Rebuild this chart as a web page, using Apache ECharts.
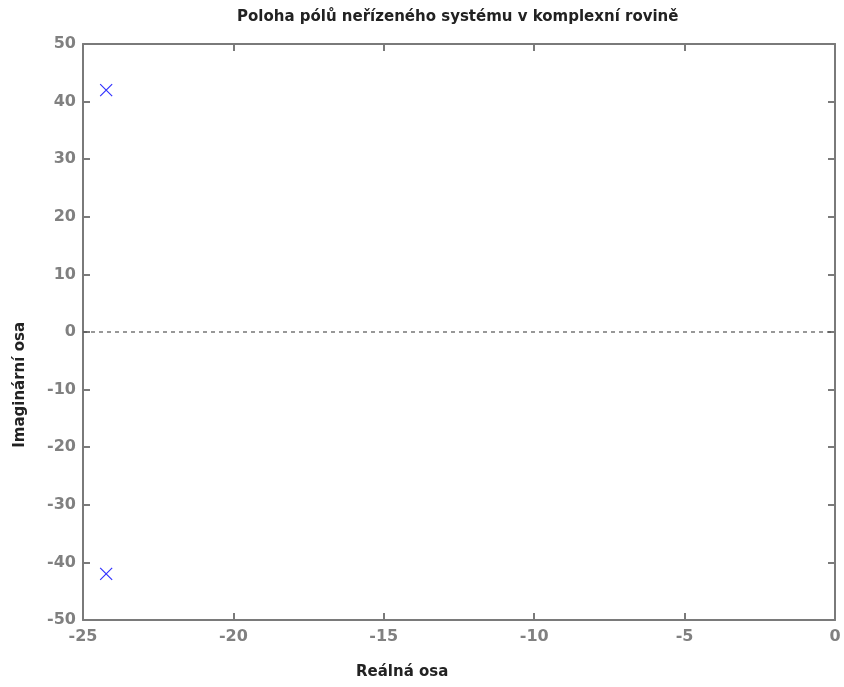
<!DOCTYPE html>
<html>
<head>
<meta charset="utf-8">
<script src="https://cdn.jsdelivr.net/npm/echarts@6/dist/echarts.min.js"></script>
<style>html,body{margin:0;padding:0;background:#fff}#c{width:844px;height:687px}</style>
</head>
<body>
<div id="c"></div>
<script>
const titleText = 'Poloha pólů neřízeného systému v komplexní rovině';
const xName = 'Reálná osa';
const yName = 'Imaginární osa';
const poleRe = [-24.23, -24.23];
const poleIm = [42.0, -42.0];
const zeroLineX = [-25, 0];
const zeroLineY = [0, 0];
const xRange = [-25, 0];
const yRange = [-50, 50];

const chart = echarts.init(document.getElementById('c'));
const gray = '#7a7a7a';
const axisCommon = {
  axisLine: {show: true, onZero: false, lineStyle: {color: gray, width: 2}},
  axisTick: {show: true, inside: true, length: 7, lineStyle: {color: gray, width: 2}},
  splitLine: {show: false}
};
const lab = {color: '#808080', fontFamily: '"DejaVu Sans"', fontWeight: 'bold', fontSize: 16};
const nameFont = 'bold 15px "DejaVu Sans"';
chart.setOption({
  animation: false,
  backgroundColor: '#fff',
  grid: {left: 83, right: 9, top: 44, bottom: 67},
  xAxis: [
    Object.assign({type: 'value', min: xRange[0], max: xRange[1], interval: 5, position: 'bottom',
      axisLabel: Object.assign({margin: 9}, lab)}, axisCommon),
    Object.assign({type: 'value', min: xRange[0], max: xRange[1], interval: 5, position: 'top',
      axisLabel: {show: false}}, axisCommon)
  ],
  yAxis: [
    Object.assign({type: 'value', min: yRange[0], max: yRange[1], interval: 10, position: 'left',
      axisLabel: Object.assign({margin: 7}, lab)}, axisCommon),
    Object.assign({type: 'value', min: yRange[0], max: yRange[1], interval: 10, position: 'right',
      axisLabel: {show: false}}, axisCommon)
  ],
  graphic: [
    {type: 'text', left: 237, top: 10, style: {text: titleText, fill: '#222', font: nameFont}},
    {type: 'text', left: 356, top: 665, style: {text: xName, fill: '#222', font: nameFont}},
    {type: 'text', left: 13, top: 322, rotation: Math.PI/2, style: {text: yName, fill: '#222', font: nameFont}}
  ],
  series: [
    {type: 'line', data: zeroLineX.map((x,i)=>[x, zeroLineY[i]]), symbol: 'none',
      lineStyle: {color: '#555', width: 1.2, type: [4, 4]}, silent: true},
    {type: 'scatter', data: poleRe.map((x,i)=>[x, poleIm[i]]),
      symbol: 'path://M0,0L10,10M10,0L0,10', symbolSize: 12,
      itemStyle: {color: 'none', borderColor: '#0000ff', borderWidth: 1.2}}
  ]
});
</script>
</body>
</html>
